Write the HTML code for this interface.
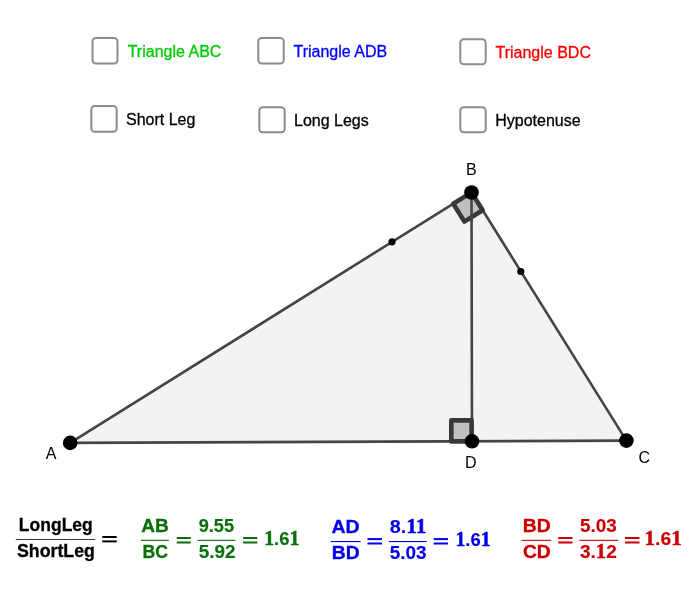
<!DOCTYPE html>
<html><head><meta charset="utf-8">
<style>
html,body{margin:0;padding:0;background:#fff;width:700px;height:600px;overflow:hidden}
svg{position:absolute;left:0;top:0;display:block;will-change:transform}
text{font-family:"Liberation Sans",sans-serif}
.cb{fill:#fff;stroke:#8c8c8c;stroke-width:2}
.lbl{font-size:16px;fill:#1a1a1a}
.cbl{stroke-width:0.3px}
.ltx text{font-family:"Liberation Sans",sans-serif;font-weight:bold;stroke-width:0.3px;paint-order:stroke}
</style></head><body>
<svg width="700" height="600" viewBox="0 0 700 600">
<!-- checkboxes -->
<rect class="cb" x="92.5" y="38" width="25" height="25.5" rx="3.5"/>
<rect class="cb" x="258.3" y="38" width="25.4" height="25.5" rx="3.5"/>
<rect class="cb" x="460.3" y="39.3" width="25.4" height="25" rx="3.5"/>
<rect class="cb" x="91.3" y="106" width="25.4" height="25.7" rx="3.5"/>
<rect class="cb" x="259.3" y="107.3" width="25.4" height="25" rx="3.5"/>
<rect class="cb" x="460.3" y="107.3" width="25.4" height="25" rx="3.5"/>
<text class="lbl cbl" x="127.7" y="56.6" style="fill:#00cc00;stroke:#00cc00">Triangle ABC</text>
<text class="lbl cbl" x="293.5" y="56.6" style="fill:#0000ff;stroke:#0000ff">Triangle ADB</text>
<text class="lbl cbl" x="495.5" y="57.7" style="fill:#ff0000;stroke:#ff0000">Triangle BDC</text>
<text class="lbl cbl" x="126" y="124.8" style="fill:#000;stroke:#000">Short Leg</text>
<text class="lbl cbl" x="294" y="126" style="fill:#000;stroke:#000">Long Legs</text>
<text class="lbl cbl" x="495.2" y="126" style="fill:#000;stroke:#000">Hypotenuse</text>

<!-- triangle -->
<polygon points="70.2,442.9 471.5,192.3 626.4,440.6" fill="#f3f3f3" stroke="none"/>
<g stroke="#454545" stroke-width="2.6" fill="none" stroke-linecap="round">
<line x1="70.2" y1="442.9" x2="471.5" y2="192.3"/>
<line x1="471.5" y1="192.3" x2="626.4" y2="440.6"/>
<line x1="70.2" y1="442.9" x2="626.4" y2="440.6"/>
<line x1="471.5" y1="192.3" x2="472" y2="441.25"/>
</g>
<!-- right angle D -->
<rect x="451.3" y="420.4" width="20.3" height="21" fill="#c0c0c0" stroke="#383838" stroke-width="4.6" stroke-linejoin="round"/>
<!-- right angle B -->
<g transform="translate(471.5,192.4) rotate(58)">
<rect x="0" y="0" width="21" height="21.5" fill="#c0c0c0" stroke="#383838" stroke-width="4.6" stroke-linejoin="round"/>
</g>
<line x1="471.5" y1="192.4" x2="471.6" y2="221" stroke="#454545" stroke-width="2.6"/>
<!-- points -->
<circle cx="70.2" cy="442.9" r="7.3" fill="#000"/>
<circle cx="471.5" cy="192.5" r="7.3" fill="#000"/>
<circle cx="626.4" cy="440.6" r="7.3" fill="#000"/>
<circle cx="472" cy="441.3" r="7.3" fill="#000"/>
<circle cx="392" cy="241.8" r="3.6" fill="#000"/>
<circle cx="520.8" cy="271.5" r="3.6" fill="#000"/>
<text class="lbl" x="466" y="174.8" style="fill:#000">B</text>
<text class="lbl" x="45.8" y="459" style="fill:#000">A</text>
<text class="lbl" x="465" y="467.8" style="fill:#000">D</text>
<text class="lbl" x="638.5" y="462.8" style="fill:#000">C</text>

<!-- formulas -->
<g class="ltx">
<rect x="15.8" y="539" width="79.20" height="1" fill="#3a3a3a"/>
<rect x="141" y="539.8" width="27.90" height="1.1" fill="#0a6e0a"/>
<rect x="197.6" y="539.8" width="37.80" height="1.1" fill="#0a6e0a"/>
<rect x="330.8" y="541" width="29.80" height="1.1" fill="#0000ee"/>
<rect x="388.9" y="541" width="37.80" height="1.1" fill="#0000ee"/>
<rect x="521.6" y="539.8" width="29.50" height="1.1" fill="#cc0000"/>
<rect x="579.4" y="539.8" width="38.60" height="1.1" fill="#cc0000"/>
<rect x="102.3" y="536" width="14.40" height="2" fill="#000"/><rect x="102.3" y="540.4" width="14.40" height="2" fill="#000"/>
<rect x="176.75" y="537" width="14.00" height="2" fill="#0a6e0a"/><rect x="176.75" y="541.5" width="14.00" height="2" fill="#0a6e0a"/>
<rect x="243.1" y="537" width="14.20" height="2" fill="#0a6e0a"/><rect x="243.1" y="541.5" width="14.20" height="2" fill="#0a6e0a"/>
<rect x="367.5" y="538.1" width="14.50" height="2" fill="#0000ee"/><rect x="367.5" y="542.5" width="14.50" height="2" fill="#0000ee"/>
<rect x="433.7" y="538.1" width="14.30" height="2" fill="#0000ee"/><rect x="433.7" y="542.5" width="14.30" height="2" fill="#0000ee"/>
<rect x="558.3" y="537" width="14.20" height="2" fill="#cc0000"/><rect x="558.3" y="541.5" width="14.20" height="2" fill="#cc0000"/>
<rect x="625" y="537" width="14.50" height="2" fill="#cc0000"/><rect x="625" y="541.5" width="14.50" height="2" fill="#cc0000"/>
<text x="18.86" y="530.7" textLength="73.94" lengthAdjust="spacingAndGlyphs" fill="#000" stroke="#000" style="font-size:18px;stroke-width:0.3px">LongLeg</text>
<text x="17.00" y="556.5" textLength="77.90" lengthAdjust="spacingAndGlyphs" fill="#000" stroke="#000" style="font-size:18px;stroke-width:0.3px">ShortLeg</text>
<text x="141.32" y="532.1" textLength="27.48" lengthAdjust="spacingAndGlyphs" fill="#0a6e0a" stroke="#0a6e0a" style="font-size:18px;stroke-width:0.3px">AB</text>
<text x="142.54" y="557.9" textLength="25.46" lengthAdjust="spacingAndGlyphs" fill="#0a6e0a" stroke="#0a6e0a" style="font-size:18px;stroke-width:0.3px">BC</text>
<text x="198.66" y="531.9" textLength="35.34" lengthAdjust="spacingAndGlyphs" fill="#0a6e0a" stroke="#0a6e0a" style="font-size:18.5px;stroke-width:0.15px">9.55</text>
<text x="198.66" y="558" textLength="36.80" lengthAdjust="spacingAndGlyphs" fill="#0a6e0a" stroke="#0a6e0a" style="font-size:18.5px;stroke-width:0.15px">5.92</text>
<text x="264.20" y="544.7" textLength="35.16" lengthAdjust="spacingAndGlyphs" fill="#0a6e0a" stroke="#0a6e0a" style="font-size:18.5px;stroke-width:0.15px"><tspan style="font-family:'Liberation Serif',serif;font-size:20px;stroke-width:0.5px">1</tspan>.6<tspan style="font-family:'Liberation Serif',serif;font-size:20px;stroke-width:0.5px">1</tspan></text>
<text x="331.54" y="532.9" textLength="28.14" lengthAdjust="spacingAndGlyphs" fill="#0000ee" stroke="#0000ee" style="font-size:18px;stroke-width:0.3px">AD</text>
<text x="331.86" y="558.75" textLength="27.82" lengthAdjust="spacingAndGlyphs" fill="#0000ee" stroke="#0000ee" style="font-size:18px;stroke-width:0.3px">BD</text>
<text x="389.66" y="532.6" textLength="36.70" lengthAdjust="spacingAndGlyphs" fill="#0000ee" stroke="#0000ee" style="font-size:18.5px;stroke-width:0.15px">8.<tspan style="font-family:'Liberation Serif',serif;font-size:20px;stroke-width:0.5px">1</tspan><tspan style="font-family:'Liberation Serif',serif;font-size:20px;stroke-width:0.5px">1</tspan></text>
<text x="389.66" y="558.9" textLength="36.80" lengthAdjust="spacingAndGlyphs" fill="#0000ee" stroke="#0000ee" style="font-size:18.5px;stroke-width:0.15px">5.03</text>
<text x="455.42" y="545.5" textLength="35.16" lengthAdjust="spacingAndGlyphs" fill="#0000ee" stroke="#0000ee" style="font-size:18.5px;stroke-width:0.15px"><tspan style="font-family:'Liberation Serif',serif;font-size:20px;stroke-width:0.5px">1</tspan>.6<tspan style="font-family:'Liberation Serif',serif;font-size:20px;stroke-width:0.5px">1</tspan></text>
<text x="522.86" y="532.1" textLength="27.82" lengthAdjust="spacingAndGlyphs" fill="#cc0000" stroke="#cc0000" style="font-size:18px;stroke-width:0.3px">BD</text>
<text x="522.98" y="558.3" textLength="27.70" lengthAdjust="spacingAndGlyphs" fill="#cc0000" stroke="#cc0000" style="font-size:18px;stroke-width:0.3px">CD</text>
<text x="579.98" y="531.9" textLength="36.80" lengthAdjust="spacingAndGlyphs" fill="#cc0000" stroke="#cc0000" style="font-size:18.5px;stroke-width:0.15px">5.03</text>
<text x="579.98" y="558" textLength="36.80" lengthAdjust="spacingAndGlyphs" fill="#cc0000" stroke="#cc0000" style="font-size:18.5px;stroke-width:0.15px">3.<tspan style="font-family:'Liberation Serif',serif;font-size:20px;stroke-width:0.5px">1</tspan>2</text>
<text x="644.62" y="544.7" textLength="37.18" lengthAdjust="spacingAndGlyphs" fill="#cc0000" stroke="#cc0000" style="font-size:18.5px;stroke-width:0.15px"><tspan style="font-family:'Liberation Serif',serif;font-size:20px;stroke-width:0.5px">1</tspan>.6<tspan style="font-family:'Liberation Serif',serif;font-size:20px;stroke-width:0.5px">1</tspan></text>
</g>
</svg>
</body></html>
